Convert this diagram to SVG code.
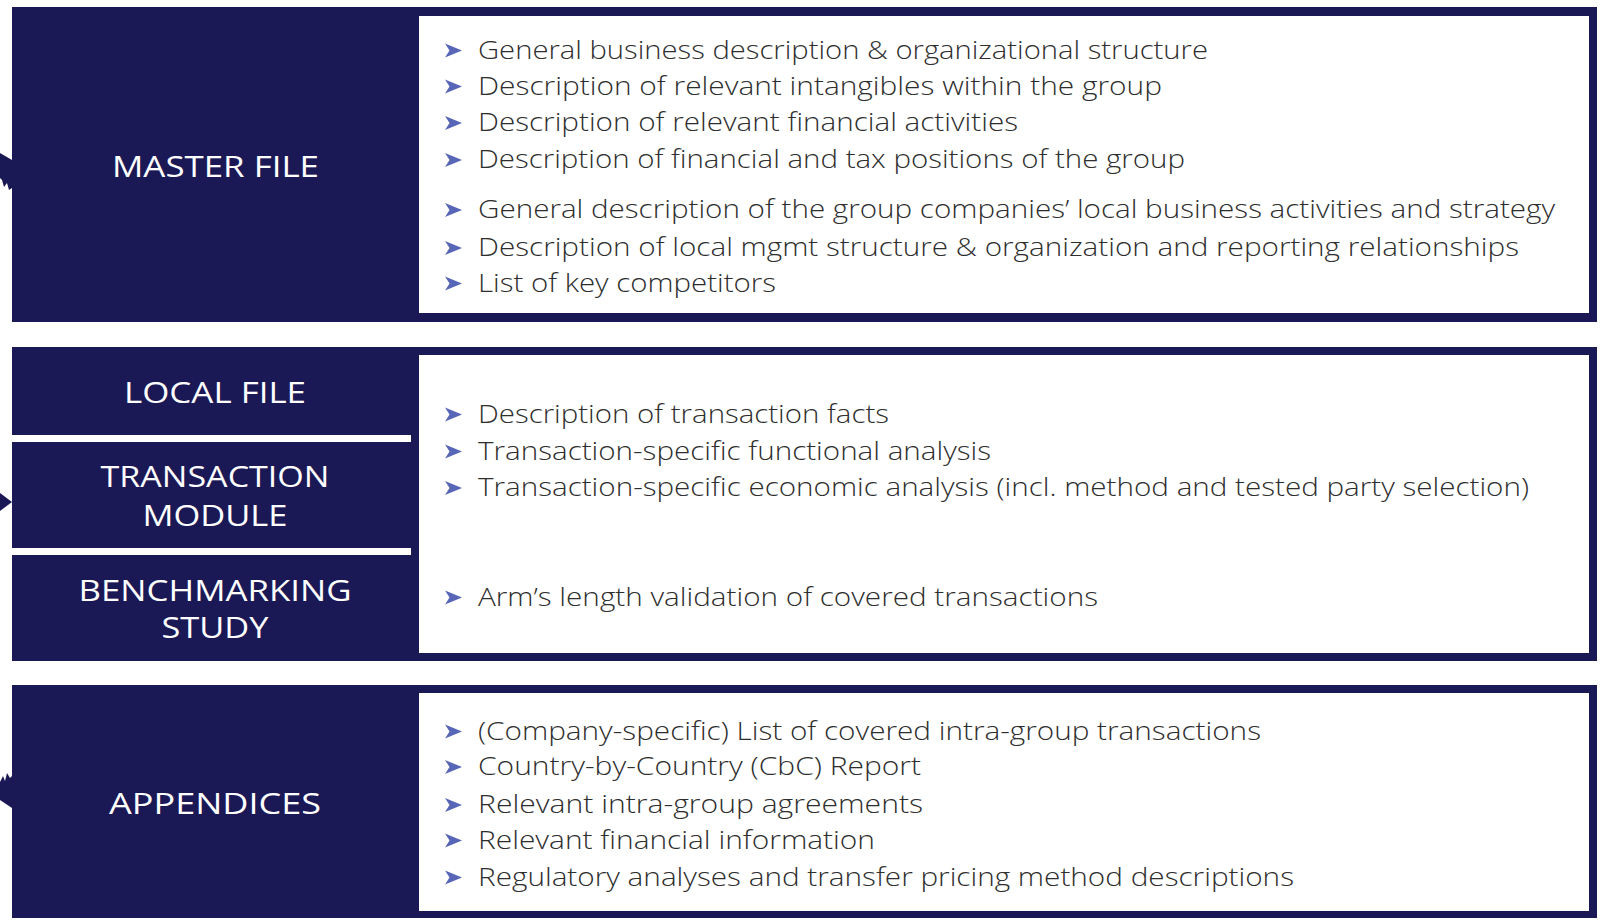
<svg xmlns="http://www.w3.org/2000/svg" width="1603" height="920" viewBox="0 0 1603 920">
<defs>
<style>
.frame{fill:#1B1856}
.inner{fill:#FFFFFF}
.sep{fill:#FFFFFF}
.lbl{font-family:"Open Sans","Liberation Sans",sans-serif;font-size:30px;fill:#FFFFFF;text-anchor:middle;font-weight:400}
.item{font-family:"Open Sans","Liberation Sans",sans-serif;font-size:26px;fill:#2E2E2E;font-weight:300}
.bul{fill:#5866B8}
.edge{fill:#1B1856}
</style>
<path id="b" class="bul" d="M0,-7 L17,0 L0,7 L4.5,0 Z"/>
</defs>
<rect width="1603" height="920" fill="#FFFFFF"/>

<g id="connectors">
<path class="edge" d="M0,153 L12,160 L12,188 L9,190 L7,183 L4,187 L2,180 L0,178 Z"/>
<path class="edge" d="M0,493 L12,502 L0,511 Z"/>
<path class="edge" d="M0,782 L3,776 L5,781 L7,773 L10,778 L12,776 L12,808 L0,800 Z"/>
</g>

<g id="master-file">
<rect class="frame" x="12" y="7" width="1585" height="315"/>
<rect class="inner" x="419" y="16" width="1170" height="297"/>
<text class="lbl" x="215.5" y="177" textLength="207" lengthAdjust="spacingAndGlyphs">MASTER FILE</text>
<use href="#b" x="445" y="50.5"/>
<use href="#b" x="445" y="86.5"/>
<use href="#b" x="445" y="123"/>
<use href="#b" x="445" y="160"/>
<use href="#b" x="445" y="210"/>
<use href="#b" x="445" y="248"/>
<use href="#b" x="445" y="283.5"/>
<text class="item" x="478" y="58.5" textLength="730" lengthAdjust="spacingAndGlyphs">General business description &amp; organizational structure</text>
<text class="item" x="478" y="94.5" textLength="684" lengthAdjust="spacingAndGlyphs">Description of relevant intangibles within the group</text>
<text class="item" x="478" y="131" textLength="540" lengthAdjust="spacingAndGlyphs">Description of relevant financial activities</text>
<text class="item" x="478" y="168" textLength="707" lengthAdjust="spacingAndGlyphs">Description of financial and tax positions of the group</text>
<text class="item" x="478" y="218" textLength="1077" lengthAdjust="spacingAndGlyphs">General description of the group companies’ local business activities and strategy</text>
<text class="item" x="478" y="256" textLength="1041" lengthAdjust="spacingAndGlyphs">Description of local mgmt structure &amp; organization and reporting relationships</text>
<text class="item" x="478" y="291.5" textLength="298" lengthAdjust="spacingAndGlyphs">List of key competitors</text>
</g>

<g id="local-file">
<rect class="frame" x="12" y="347" width="1585" height="314"/>
<rect class="inner" x="419" y="355" width="1170" height="298"/>
<rect class="sep" x="12" y="435" width="399" height="7"/>
<rect class="sep" x="12" y="548" width="399" height="7"/>
<text class="lbl" x="215" y="403" textLength="182" lengthAdjust="spacingAndGlyphs">LOCAL FILE</text>
<use href="#b" x="445" y="414.5"/>
<use href="#b" x="445" y="451.5"/>
<use href="#b" x="445" y="488"/>
<text class="item" x="478" y="422.5" textLength="411" lengthAdjust="spacingAndGlyphs">Description of transaction facts</text>
<text class="item" x="478" y="459.5" textLength="513" lengthAdjust="spacingAndGlyphs">Transaction-specific functional analysis</text>
<text class="item" x="478" y="496" textLength="1051" lengthAdjust="spacingAndGlyphs">Transaction-specific economic analysis (incl. method and tested party selection)</text>
</g>

<g id="transaction-module">
<text class="lbl" x="215" y="487" textLength="229" lengthAdjust="spacingAndGlyphs">TRANSACTION</text>
<text class="lbl" x="215" y="526" textLength="145" lengthAdjust="spacingAndGlyphs">MODULE</text>
</g>

<g id="benchmarking-study">
<text class="lbl" x="215" y="601" textLength="273" lengthAdjust="spacingAndGlyphs">BENCHMARKING</text>
<text class="lbl" x="215" y="638" textLength="107" lengthAdjust="spacingAndGlyphs">STUDY</text>
<use href="#b" x="445" y="597.5"/>
<text class="item" x="478" y="605.5" textLength="620" lengthAdjust="spacingAndGlyphs">Arm’s length validation of covered transactions</text>
</g>

<g id="appendices">
<rect class="frame" x="12" y="685" width="1585" height="233"/>
<rect class="inner" x="419" y="693" width="1170" height="218"/>
<text class="lbl" x="215" y="814" textLength="212" lengthAdjust="spacingAndGlyphs">APPENDICES</text>
<use href="#b" x="445" y="731.5"/>
<use href="#b" x="445" y="767"/>
<use href="#b" x="445" y="805"/>
<use href="#b" x="445" y="840.5"/>
<use href="#b" x="445" y="877.5"/>
<text class="item" x="478" y="739.5" textLength="783" lengthAdjust="spacingAndGlyphs">(Company-specific) List of covered intra-group transactions</text>
<text class="item" x="478" y="775" textLength="443" lengthAdjust="spacingAndGlyphs">Country-by-Country (CbC) Report</text>
<text class="item" x="478" y="813" textLength="445" lengthAdjust="spacingAndGlyphs">Relevant intra-group agreements</text>
<text class="item" x="478" y="848.5" textLength="397" lengthAdjust="spacingAndGlyphs">Relevant financial information</text>
<text class="item" x="478" y="885.5" textLength="816" lengthAdjust="spacingAndGlyphs">Regulatory analyses and transfer pricing method descriptions</text>
</g>
</svg>
